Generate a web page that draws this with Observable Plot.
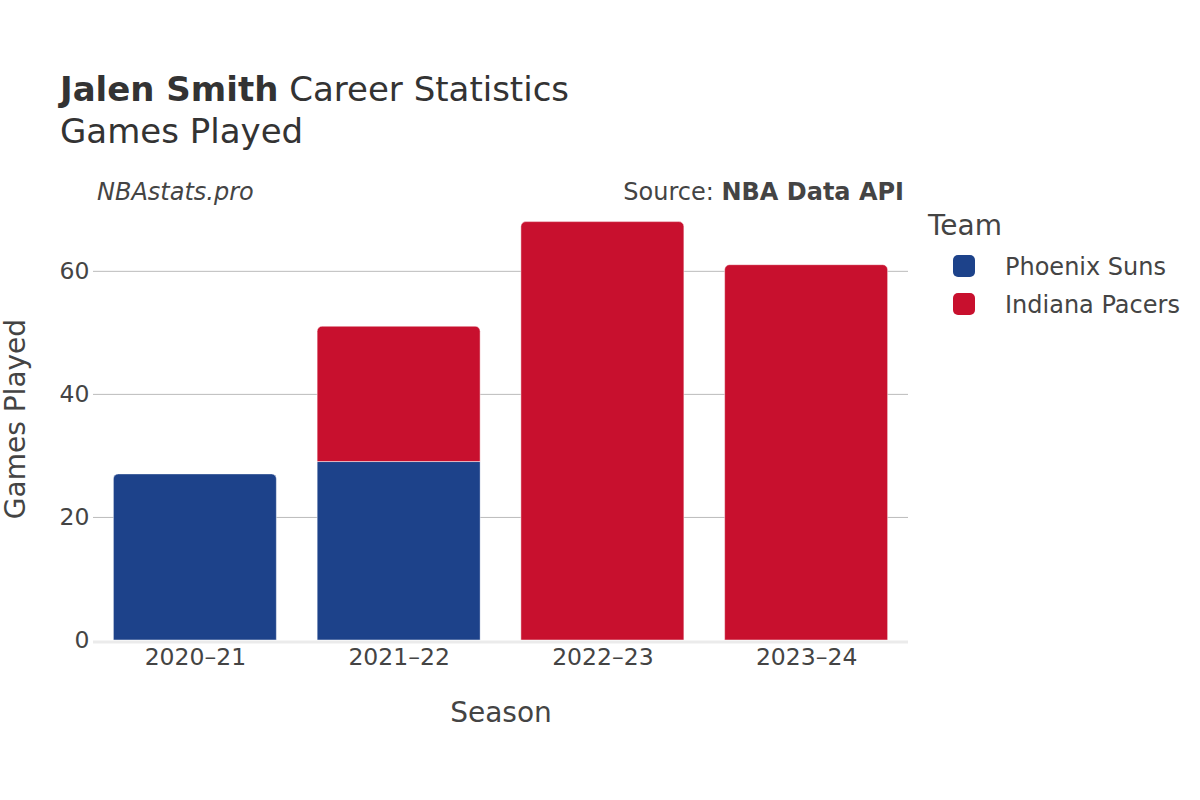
<!DOCTYPE html>
<html>
<head>
<meta charset="utf-8">
<script src="https://cdn.jsdelivr.net/npm/d3@7"></script>
<script src="https://cdn.jsdelivr.net/npm/@observablehq/plot@0.6"></script>
<style>
  html, body { margin: 0; padding: 0; background: #fff; }
  body { font-family: "DejaVu Sans", sans-serif; color: #444; }
  #wrap { position: relative; width: 1200px; height: 800px; overflow: hidden; }
  #header { position: relative; height: 180px; }
  .t { position: absolute; white-space: nowrap; line-height: 1; }
  #chart svg { display: block; }
</style>
</head>
<body>
<div id="wrap">
  <div id="header">
    <div class="t" style="left:60px; top:72px; font-size:34px; color:#333;"><b>Jalen Smith</b> Career Statistics</div>
    <div class="t" style="left:60px; top:114px; font-size:34px; color:#333;">Games Played</div>
  </div>
  <div class="t" style="left:97px; top:180px; font-size:24px; font-style:italic; color:#444;">NBAstats.pro</div>
  <div class="t" style="right:296px; top:180px; font-size:24px; color:#444;">Source: <b>NBA Data API</b></div>
  <div id="legend"></div>
  <div id="chart" style="position:absolute; left:0; top:180px;"></div>
</div>
<script>
const seasons = ["2020–21", "2021–22", "2022–23", "2023–24"];
const teams = ["Phoenix Suns", "Indiana Pacers"];
const teamColors = ["#1d428a", "#c8102e"];
const phoenixGames = [27, 29, 0, 0];
const indianaGames = [0, 22, 68, 61];
const yTicks = [0, 20, 40, 60];

// Build stacked segments (bottom to top in team order)
const seriesByTeam = [phoenixGames, indianaGames];
const rows = [];
seasons.forEach((s, i) => {
  let base = 0;
  const segs = [];
  teams.forEach((t, k) => {
    const v = seriesByTeam[k][i];
    if (v > 0) {
      segs.push({season: s, team: t, value: v, y1: base, y2: base + v, top: false});
      base += v;
    }
  });
  if (segs.length) segs[segs.length - 1].top = true;
  rows.push(...segs);
});

const chart = Plot.plot({
  width: 1200,
  height: 620,
  marginTop: 17,
  marginBottom: 160,
  marginLeft: 93,
  marginRight: 292,
  style: {fontFamily: "DejaVu Sans, sans-serif", fontSize: "23.5px", color: "#444", background: "transparent"},
  x: {domain: seasons, paddingInner: 0.2, paddingOuter: 0.1, round: false, label: null},
  y: {domain: [0, 72], label: null},
  color: {domain: teams, range: teamColors},
  marks: [
    Plot.ruleY(yTicks.filter(d => d > 0), {stroke: "#bbb", strokeWidth: 1}),
    Plot.barY(rows.filter(d => !d.top), {x: "season", y1: "y1", y2: "y2", fill: "team", stroke: "#fff", strokeWidth: 0.6, strokeOpacity: 0.8}),
    Plot.barY(rows.filter(d => d.top), {x: "season", y1: "y1", y2: "y2", fill: "team", stroke: "#fff", strokeWidth: 0.6, strokeOpacity: 0.8, ry1: 5, rx1y1: 5, rx2y1: 5}),
    Plot.ruleY([0], {stroke: "#ebebeb", strokeWidth: 3, dy: 1.5}),
    Plot.axisY({ticks: yTicks, tickSize: 0, tickPadding: 4, label: "Games Played", labelAnchor: "center", labelArrow: "none", labelOffset: 88, fontSize: 23.5}),
    Plot.axisX({tickSize: 0, tickPadding: 8, label: "Season", labelAnchor: "center", labelArrow: "none", labelOffset: 81, fontSize: 23.5})
  ]
});
// enlarge axis title fonts
d3.select(chart).selectAll("g[aria-label='y-axis label'] text, g[aria-label='x-axis label'] text").attr("font-size", 28);
document.getElementById("chart").appendChild(chart);

// Legend
const legend = d3.select("#legend");
legend.append("div").attr("class", "t")
  .style("left", "928px").style("top", "212px").style("font-size", "28px").style("color", "#444")
  .text("Team");
teams.forEach((t, k) => {
  legend.append("div")
    .style("position", "absolute").style("left", "953px").style("top", (255 + 38 * k) + "px")
    .style("width", "22px").style("height", "22px").style("border-radius", "5px")
    .style("background", teamColors[k]);
  legend.append("div").attr("class", "t")
    .style("left", "1005px").style("top", (255 + 38 * k) + "px").style("font-size", "24px").style("color", "#444")
    .text(t);
});
</script>
</body>
</html>
